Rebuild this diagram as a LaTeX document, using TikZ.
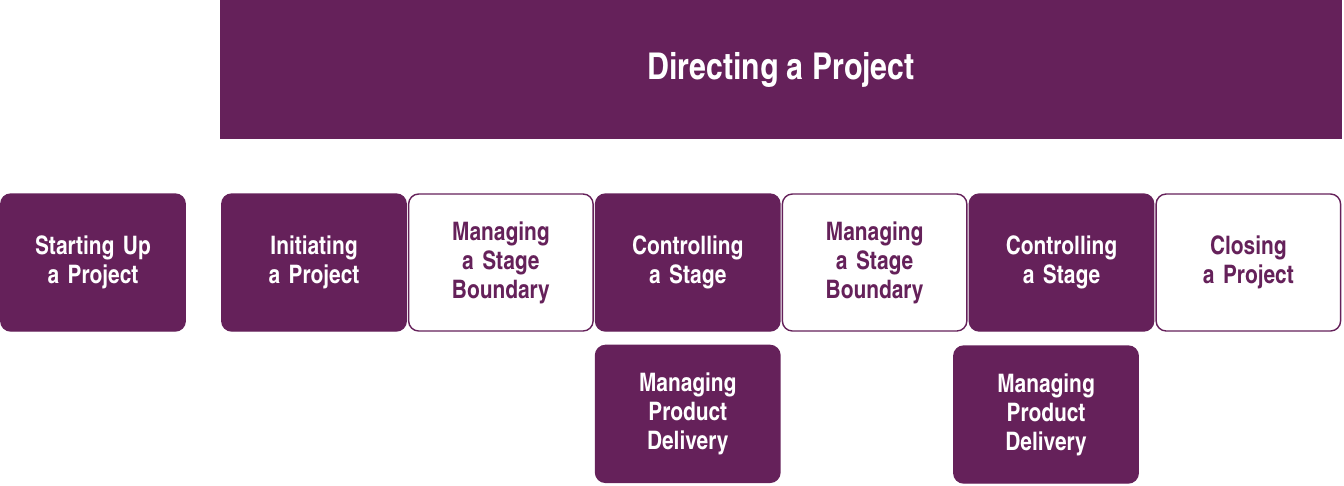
\documentclass[tikz,border=0pt]{standalone}
\usepackage{fontspec}
\setmainfont{TeX Gyre Heros Cn}
\usetikzlibrary{positioning}
\definecolor{plum}{HTML}{65215A}

\begin{document}
\begin{tikzpicture}[
            x=0.02cm, y=-0.02cm,
            node distance=0.02cm,
            board/.style={
                rectangle,
                minimum width=22.42cm,
                minimum height=2.76cm,
                text centered,
                draw=plum,
                fill=plum,
                text=white,
                font=\bfseries\fontsize{21}{24}\selectfont
            },
            process/.style={
                rectangle,
                rounded corners=0.2cm,
                minimum width=3.69cm,
                minimum height=2.74cm,
                text width=3.4cm,
                align=center,
                inner sep=0pt,
                line width=0.8pt,
                draw=plum,
                fill=plum,
                text=white,
                font=\bfseries\fontsize{14.5}{16.5}\selectfont
            },
            boundary/.style={
                process,
                fill=white,
                text=plum
            }
        ]
            \useasboundingbox (0,0) rectangle (1344,485);
            % Board level
            \node[board] (directing) at (781,69.5) {Directing a Project};
            
            % Management level
            \node[process] (startup) at (93,262.5) {Starting Up\\a Project};
            \node[process] (initiating) at (314,262.5) {Initiating\\a Project};
            \node[boundary, right=of initiating] (boundarya) {Managing\\a Stage\\Boundary};
            \node[process, right=of boundarya] (controla) {Controlling\\a Stage};
            \node[boundary, right=of controla] (boundaryb) {Managing\\a Stage\\Boundary};
            \node[process, right=of boundaryb] (controlb) {Controlling\\a Stage};
            \node[boundary, right=of controlb] (closing) {Closing\\a Project};
            
            % Delivery level
            \node[process, below=0.26cm of controla] (deliverya) {Managing\\Product\\Delivery};
            \node[process] (deliveryb) at (1046,414.5) {Managing\\Product\\Delivery};
        \end{tikzpicture}
\end{document}
